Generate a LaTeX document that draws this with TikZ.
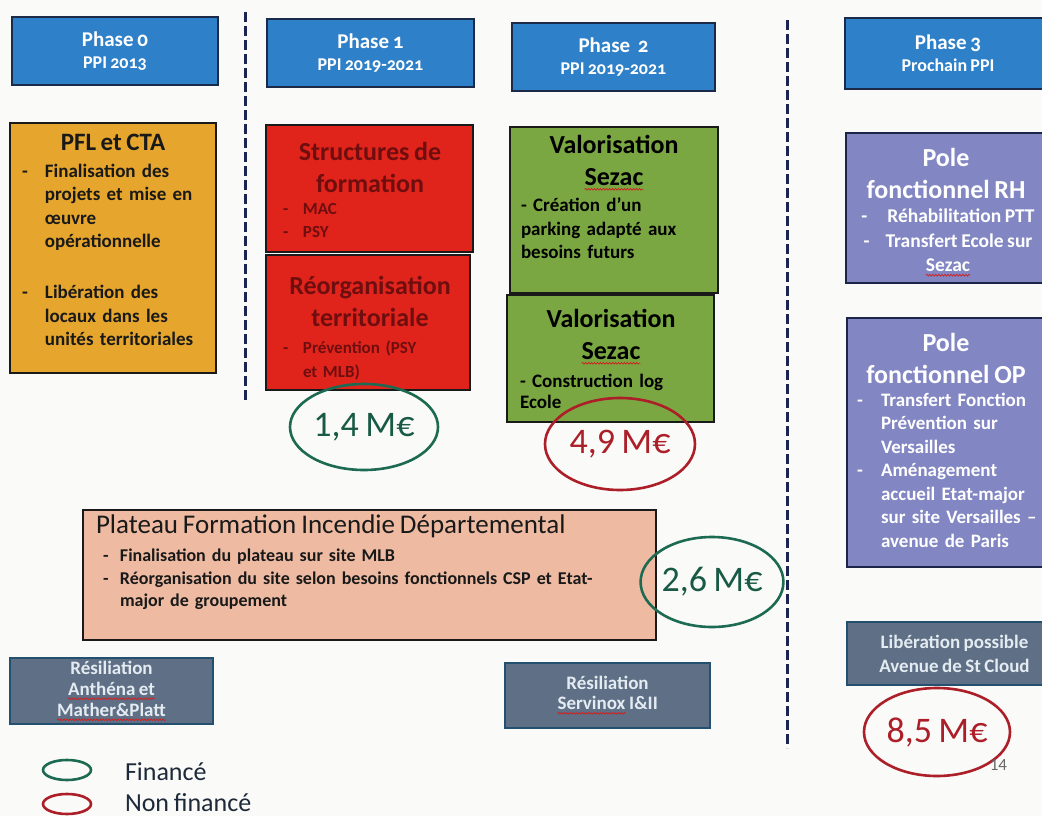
\documentclass[tikz,border=0pt]{standalone}
\usepackage{fontspec}
\setmainfont{Carlito}[WordSpace=0.8]
\newfontfamily\oldnum{Carlito}[Numbers=OldStyle,WordSpace=0.8]
\usetikzlibrary{shapes.geometric,decorations.pathmorphing}
\definecolor{paper}{HTML}{FAFAF8}
\definecolor{phaseblue}{HTML}{2E80C8}
\definecolor{phaseline}{HTML}{1A2A48}
\definecolor{boxline}{HTML}{1A1A1A}
\definecolor{gold}{HTML}{E6A52C}
\definecolor{redbox}{HTML}{E0241C}
\definecolor{redtext}{HTML}{6E0E0E}
\definecolor{greenbox}{HTML}{7AA742}
\definecolor{polefill}{HTML}{8286C2}
\definecolor{poleline}{HTML}{1C2448}
\definecolor{peach}{HTML}{EEBBA2}
\definecolor{greyfill}{HTML}{5E6F86}
\definecolor{greyline}{HTML}{22506E}
\definecolor{greytext}{HTML}{E4ECF2}
\definecolor{divcol}{HTML}{1B2550}
\definecolor{fingreen}{HTML}{1D6A52}
\definecolor{finred}{HTML}{AC1E28}
\definecolor{legtext}{HTML}{1E2A3A}
\definecolor{squig}{HTML}{D02020}
\newcommand\fs[2]{\fontsize{#1}{#2}\selectfont}
\newcommand\dashitem[1]{\hangindent=#1\hangafter=1\noindent\makebox[#1][l]{-}\ignorespaces}
\newcommand\sqw[1]{\tikz[baseline=(sqwtxt.base)]{\node[rectangle, draw=none, fill=none, minimum width=0pt, minimum height=0pt, inner sep=0pt, outer sep=0pt, anchor=base] (sqwtxt) {#1};
  \draw[squig, line width=0.7pt, decorate, decoration={snake, amplitude=0.9pt, segment length=3pt}] ([yshift=-3.5pt]sqwtxt.base west) -- ([yshift=-3.5pt]sqwtxt.base east);}}
\tikzset{
  panel/.style={rectangle, anchor=north west, draw=boxline, line width=1.8pt},
  phasebox/.style={panel, fill=phaseblue, draw=phaseline},
  phtxt/.style={anchor=center, align=center, text=white, font=\oldnum\bfseries\fs{21}{22}},
  ttl/.style={anchor=north, align=center, font=\bfseries\fs{26}{32.5}},
  body/.style={anchor=north west, align=left, font=\bfseries\fs{19}{23.5}},
  greybox/.style={panel, fill=greyfill, draw=greyline, line width=2pt, text=greytext, align=center, font=\bfseries\fs{19}{21}},
  cost/.style={ellipse, draw, line width=2.6pt, font=\fs{36}{40}},
  legmark/.style={ellipse, draw, line width=2.6pt, minimum width=48pt, minimum height=20pt},
  legtxt/.style={anchor=base west, text=legtext, font=\fs{26}{30}},
  divider/.style={draw=divcol, line width=3pt, dash pattern=on 10pt off 4pt},
  every node/.append style={inner sep=0pt, outer sep=0pt}
}
\begin{document}
\begin{tikzpicture}[x=1pt,y=-1pt]
\clip (0,0) rectangle (1042,816);
\fill[paper] (0,0) rectangle (1042,816);

% dividers
\coordinate (d1top) at (245,12);
\coordinate (d1bot) at (245,402);
\coordinate (d2top) at (787,20);
\coordinate (d2bot) at (787,748);
\draw[divider] (d1top) -- (d1bot);
\draw[divider] (d2top) -- (d2bot);

% phases
\node[phasebox, minimum width=206pt, minimum height=68pt] (ph0) at (12,17) {};
\node[phtxt] (ph0t) at (ph0.center) {Phase 0\\{\fs{18}{22}PPI 2013}};
\node[phasebox, minimum width=207pt, minimum height=68pt] (ph1) at (267,19) {};
\node[phtxt] (ph1t) at (ph1.center) {Phase 1\\{\fs{18}{22}PPI 2019-2021}};
\node[phasebox, minimum width=203pt, minimum height=68pt] (ph2) at (512,23) {};
\node[phtxt] (ph2t) at (ph2.center) {Phase~~2\\{\fs{18}{22}PPI 2019-2021}};
\node[phasebox, minimum width=214pt, minimum height=71pt] (ph3) at (845,18) {};
\node[phtxt] (ph3t) at ([xshift=-4pt]ph3.center) {Phase 3\\{\fs{18}{22}Prochain PPI}};

% phase 0 : PFL
\node[panel, fill=gold, line width=2.2pt, minimum width=206pt, minimum height=250pt] (pfl) at (10,123) {};
\node[ttl, font=\bfseries\fs{25}{30}, text=black!90] (pflt) at (113,134) {PFL et CTA};
\node[body, text width=190pt, text=black!90] (pflb) at (22,164) {%
\dashitem{23pt}Finalisation des\newline projets et mise en\newline œuvre\newline opérationnelle\par
\vspace{27.5pt}%
\dashitem{23pt}Libération des\newline locaux dans les\newline unités territoriales\par};

% phase 1 : red
\node[panel, fill=redbox, minimum width=207pt, minimum height=127pt] (str) at (266,125) {};
\node[ttl, text=redtext] (strt) at (370,142) {Structures de\\formation};
\node[body, font=\bfseries\fs{17}{23}, text=redtext, text width=160pt] (strb) at (283,203) {%
\dashitem{20pt}MAC\par\dashitem{20pt}PSY\par};
\node[panel, fill=redbox, minimum width=204pt, minimum height=135pt] (reo) at (266,255) {};
\node[ttl, text=redtext] (reot) at (370,276) {Réorganisation\\territoriale};
\node[body, font=\bfseries\fs{17}{24}, text=redtext, text width=160pt] (reob) at (283,341) {%
\dashitem{20pt}Prévention (PSY\newline et MLB)\par};

% phase 2 : green
\node[panel, fill=greenbox, minimum width=208pt, minimum height=166pt] (val1) at (510,127) {};
\node[ttl, text=black] (val1t) at (614,135) {Valorisation\\\sqw{Sezac}};
\node[body, text=black, text width=195pt] (val1b) at (521,198) {%
- Création d’un\newline parking adapté aux\newline besoins futurs};
\node[panel, fill=greenbox, minimum width=207pt, minimum height=127pt] (val2) at (507,295) {};
\node[ttl, text=black] (val2t) at (611,309) {Valorisation\\\sqw{Sezac}};
\node[body, font=\bfseries\fs{19}{21}, text=black, text width=195pt] (val2b) at (520,374) {%
- Construction log\newline Ecole};

% phase 3 : poles
\node[panel, fill=polefill, draw=poleline, minimum width=215pt, minimum height=150pt] (polerh) at (846,133) {};
\node[ttl, text=white] (polerht) at (946,148) {Pole\\fonctionnel RH};
\node[anchor=north, align=center, text=white, font=\bfseries\fs{19.5}{24.5}] (polerhb) at (948,209) {%
-\hspace{20pt}Réhabilitation PTT\\-\hspace{16pt}Transfert Ecole sur\\\sqw{Sezac}};
\node[panel, fill=polefill, draw=poleline, minimum width=215pt, minimum height=249pt] (poleop) at (847,318) {};
\node[ttl, text=white] (poleopt) at (946,333) {Pole\\fonctionnel OP};
\node[body, text=white, text width=185pt] (poleopb) at (857,393) {%
\dashitem{24pt}Transfert Fonction\newline Prévention sur\newline Versailles\par
\dashitem{24pt}Aménagement\newline accueil Etat-major\newline sur site Versailles –\newline avenue de Paris\par};

% plateau
\node[panel, fill=peach, minimum width=573pt, minimum height=130pt] (plat) at (83,510) {};
\node[anchor=north west, text=black!90, font=\fs{27}{30}] (platt) at (96,515) {Plateau Formation Incendie Départemental};
\node[body, font=\bfseries\fs{18}{22.5}, text=black!90, text width=560pt] (platb) at (103,549) {%
\dashitem{17pt}Finalisation du plateau sur site MLB\par
\dashitem{17pt}Réorganisation du site selon besoins fonctionnels CSP et Etat-\newline major de groupement\par};

% grey boxes
\node[greybox, minimum width=203pt, minimum height=66pt] (res1) at (10,658) {Résiliation\\\sqw{Anthéna et}\\\sqw{Mather\&Platt}};
\node[greybox, font=\bfseries\fs{19}{20}, minimum width=205pt, minimum height=65pt] (res2) at (505,663) {Résiliation\\\sqw{Servinox} I\&II};
\node[greybox, font=\bfseries\fs{19}{24}, minimum width=215pt, minimum height=63pt] (lib) at (847,622) {Libération possible\\Avenue de St Cloud};

% costs
\node[cost, draw=fingreen, text=fingreen!85!black, minimum width=148pt, minimum height=86pt] (c14) at (364,427) {1,4 M€};
\node[cost, draw=finred, text=finred, minimum width=150pt, minimum height=92pt] (c49) at (620,444) {4,9 M€};
\node[cost, draw=fingreen, text=fingreen!85!black, minimum width=142pt, minimum height=90pt] (c26) at (712,582) {2,6 M€};
\node[cost, draw=finred, text=finred, minimum width=146pt, minimum height=88pt] (c85) at (937,732) {8,5 M€};
\node[anchor=base east, text=black!60, font=\fs{17}{20}] (pgno) at (1007,770) {14};

% legend
\node[legmark, draw=fingreen] (lg1) at (67,770) {};
\node[legmark, draw=finred] (lg2) at (67,804) {};
\node[legtxt] (lg1t) at (125,780) {Financé};
\node[legtxt] (lg2t) at (125,811) {Non financé};
\end{tikzpicture}
\end{document}
